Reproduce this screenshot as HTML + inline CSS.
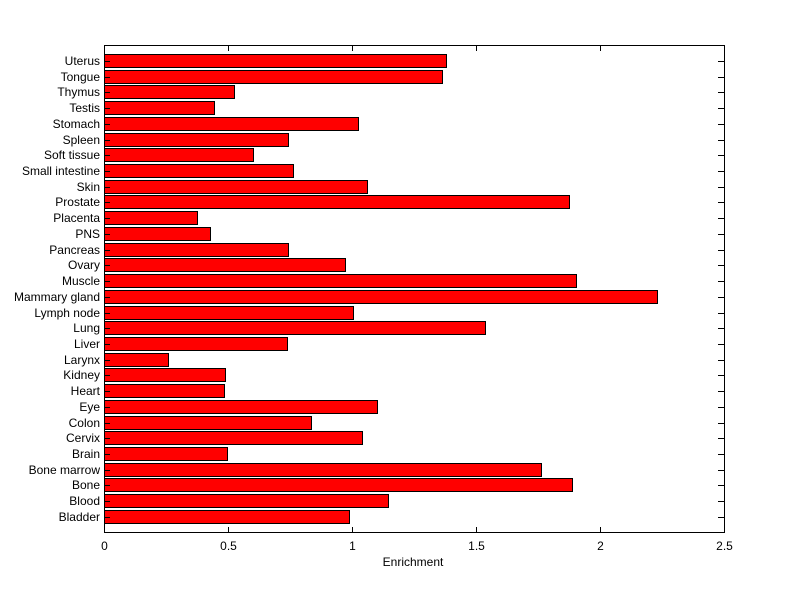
<!DOCTYPE html>
<html><head><meta charset="utf-8"><style>html,body{margin:0;padding:0;background:#fff}svg{display:block}text{font-family:"Liberation Sans",sans-serif;font-size:12px;fill:#000}</style></head>
<body>
<svg width="800" height="599" xmlns="http://www.w3.org/2000/svg">
<g id="bars"></g>
<rect x="104.5" y="45.5" width="620" height="487" fill="none" stroke="#000" stroke-width="1"/>
<g id="ticks" stroke="#000" stroke-width="1"></g>
<g id="labels"></g>
<text x="413" y="566" text-anchor="middle">Enrichment</text>
</svg>
<script>
(function(){
var names=["Uterus","Tongue","Thymus","Testis","Stomach","Spleen","Soft tissue","Small intestine","Skin","Prostate","Placenta","PNS","Pancreas","Ovary","Muscle","Mammary gland","Lymph node","Lung","Liver","Larynx","Kidney","Heart","Eye","Colon","Cervix","Brain","Bone marrow","Bone","Blood","Bladder"];
var ends=[446,442,234,214,358,288,253,293,367,569,197,210,288,345,576,657,353,485,287,168,225,224,377,311,362,227,541,572,388,349];
var ns="http://www.w3.org/2000/svg";
var bars=document.getElementById("bars"),ticks=document.getElementById("ticks"),labels=document.getElementById("labels");
function el(p,t,a,txt){var e=document.createElementNS(ns,t);for(var k in a)e.setAttribute(k,a[k]);if(txt)e.textContent=txt;p.appendChild(e);}
for(var i=0;i<30;i++){
 var ty=54+i*15.72, c=ty+7;
 el(bars,"rect",{x:104.5,y:Math.round(ty)+0.5,width:ends[i]-104,height:13,fill:"#ff0000",stroke:"#000","stroke-width":1});
 var yc=Math.round(c)+0.5;
 el(ticks,"line",{x1:104,y1:yc,x2:110,y2:yc});
 el(ticks,"line",{x1:718,y1:yc,x2:724,y2:yc});
 el(labels,"text",{x:100,y:Math.round(c)+4,"text-anchor":"end"},names[i]);
}
var xl=["0","0.5","1","1.5","2","2.5"];
for(var j=0;j<6;j++){
 var x=Math.round(104+j*124)+0.5;
 el(ticks,"line",{x1:x,y1:527,x2:x,y2:533});
 el(ticks,"line",{x1:x,y1:45,x2:x,y2:51});
 el(labels,"text",{x:x,y:550,"text-anchor":"middle"},xl[j]);
}
})();
</script>
</body></html>
